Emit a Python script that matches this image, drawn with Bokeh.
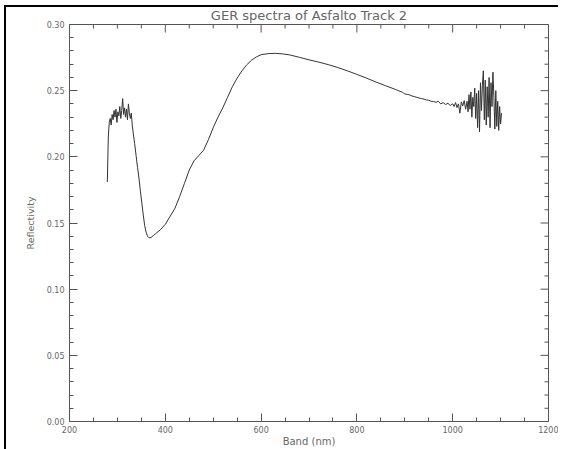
import math
from bokeh.plotting import figure
from bokeh.models import Range1d, FixedTicker, NumeralTickFormatter, ColumnDataSource
from bokeh.layouts import column
from bokeh.embed import file_html
from bokeh.resources import INLINE

# ---- data ----
band_nm = [
    279, 281, 283, 285, 287, 289, 291, 293, 295, 297, 299, 301, 303, 305, 307, 309,
    311, 313, 315, 317, 319, 321, 323, 325, 327, 329, 331, 333, 336, 339, 342, 345,
    348, 351, 354, 357, 360, 363, 366, 370, 375, 380, 390, 400, 410, 420, 430, 440,
    450, 460, 470, 480, 490, 500, 510, 520, 530, 540, 550, 560, 570, 580, 590, 600,
    615, 630, 645, 660, 680, 700, 720, 740, 760, 780, 800, 820, 840, 860, 880, 890,
    895, 900, 905, 910, 915, 920, 925, 930, 935, 940, 945, 950, 955, 960, 965, 970,
    975, 980, 985, 990, 995, 1000, 1003, 1006, 1009, 1012, 1015, 1018, 1021, 1024, 1027,
    1030, 1032, 1034, 1036, 1038, 1040, 1042, 1044, 1046, 1048, 1050, 1052, 1054, 1056,
    1058, 1060, 1062, 1064, 1066, 1068, 1070, 1072, 1074, 1076, 1078, 1080, 1082, 1084,
    1086, 1088, 1090, 1092, 1094, 1096, 1098, 1100, 1102,
]
reflectivity = [
    0.181, 0.215, 0.226, 0.229, 0.224, 0.232, 0.228, 0.235, 0.230, 0.236, 0.226, 0.234,
    0.231, 0.238, 0.229, 0.235, 0.244, 0.232, 0.237, 0.230, 0.236, 0.228, 0.240, 0.233,
    0.229, 0.233, 0.224, 0.218, 0.210, 0.201, 0.192, 0.184, 0.174, 0.165, 0.156, 0.148,
    0.143, 0.140, 0.1388, 0.139, 0.1405, 0.142, 0.145, 0.149, 0.155, 0.161, 0.170, 0.180,
    0.190, 0.197, 0.201, 0.205, 0.213, 0.222, 0.230, 0.237, 0.245, 0.253, 0.2595, 0.265,
    0.2695, 0.273, 0.2755, 0.2772, 0.278, 0.2782, 0.2778, 0.277, 0.2752, 0.2733, 0.2716,
    0.2697, 0.2675, 0.265, 0.2623, 0.2595, 0.2565, 0.2537, 0.251, 0.2495,
    0.2488, 0.2475, 0.2472, 0.2468, 0.2460, 0.2455, 0.2450, 0.2444, 0.2440, 0.2436,
    0.2430, 0.2427, 0.2420, 0.2418, 0.2412, 0.2420, 0.2400, 0.2410, 0.2395, 0.2405,
    0.2388, 0.2400, 0.2380, 0.2410, 0.2372, 0.2400, 0.2330, 0.2415, 0.2385, 0.2425,
    0.2360,
    0.2420, 0.2340, 0.2470, 0.2360, 0.2490, 0.2300, 0.2450, 0.2380, 0.2520, 0.2290,
    0.2480, 0.2220, 0.2500, 0.2190, 0.2560, 0.2350, 0.2540, 0.2650, 0.2280, 0.2580,
    0.2240, 0.2530, 0.2300, 0.2600, 0.2220, 0.2560, 0.2380, 0.2640, 0.2450, 0.2210,
    0.2500, 0.2230, 0.2420, 0.2200, 0.2380, 0.2250, 0.2330,
]

x_major_ticks = [200, 400, 600, 800, 1000, 1200]
x_minor_ticks = [250, 300, 350, 450, 500, 550, 650, 700, 750, 850, 900, 950, 1050, 1100, 1150]
y_major_ticks = [0.00, 0.05, 0.10, 0.15, 0.20, 0.25, 0.30]
y_minor_ticks = [0.01, 0.02, 0.03, 0.04, 0.06, 0.07, 0.08, 0.09, 0.11, 0.12, 0.13, 0.14,
                 0.16, 0.17, 0.18, 0.19, 0.21, 0.22, 0.23, 0.24, 0.26, 0.27, 0.28, 0.29]

title_text = "GER spectra of Asfalto Track 2"
x_label = "Band (nm)"
y_label = "Reflectivity"

X0, X1 = 200, 1200
Y0, Y1 = 0.0, 0.30

FONT = "DejaVu Sans"
TXT = "#666666"
AX = "#555555"

p = figure(width=552, height=442, output_backend="svg", toolbar_location=None,
           x_range=Range1d(X0, X1), y_range=Range1d(Y0, Y1),
           title=title_text, x_axis_label=x_label, y_axis_label=y_label,
           min_border_left=63, min_border_right=10, min_border_top=16, min_border_bottom=28)

p.title.align = "center"
p.title.vertical_align = "top"
p.title.text_font = FONT
p.title.text_font_size = "13px"
p.title.text_font_style = "normal"
p.title.text_color = TXT
p.title.standoff = 0
p.title.offset = 0

p.xgrid.visible = False
p.ygrid.visible = False
p.outline_line_color = AX
p.background_fill_color = "white"
p.border_fill_color = "white"

src = ColumnDataSource(dict(x=band_nm, y=reflectivity))
p.line("x", "y", source=src, line_color="#333333", line_width=1)

xt = FixedTicker(ticks=x_major_ticks, minor_ticks=x_minor_ticks)
yt = FixedTicker(ticks=y_major_ticks, minor_ticks=y_minor_ticks)

xax = p.below[0]
yax = p.left[0]
for ax in [xax, yax]:
    ax.axis_line_color = AX
    ax.major_tick_line_color = AX
    ax.minor_tick_line_color = AX
    ax.major_tick_in = 8
    ax.major_tick_out = 0
    ax.minor_tick_in = 4
    ax.minor_tick_out = 0
    ax.major_label_text_font = FONT
    ax.major_label_text_font_size = "8px"
    ax.major_label_text_color = TXT
    ax.axis_label_text_font = FONT
    ax.axis_label_text_font_style = "normal"
    ax.axis_label_text_color = TXT

xax.ticker = xt
yax.ticker = yt
yax.formatter = NumeralTickFormatter(format="0.00")
xax.major_label_standoff = 4
yax.major_label_standoff = 5
xax.axis_label_text_font_size = "10px"
xax.axis_label_standoff = 0
yax.axis_label_text_font_size = "9.5px"
yax.axis_label_standoff = 8

# inward ticks on the top and right frame edges (half of each dash is clipped by the frame)
p.scatter(x=x_major_ticks, y=[Y1] * len(x_major_ticks), marker="dash", angle=math.pi / 2,
          size=16, line_color=AX, line_width=1)
p.scatter(x=x_minor_ticks, y=[Y1] * len(x_minor_ticks), marker="dash", angle=math.pi / 2,
          size=8, line_color=AX, line_width=1)
p.scatter(x=[X1] * len(y_major_ticks), y=y_major_ticks, marker="dash",
          size=16, line_color=AX, line_width=1)
p.scatter(x=[X1] * len(y_minor_ticks), y=y_minor_ticks, marker="dash",
          size=8, line_color=AX, line_width=1)

lay = column(p, margin=(5, 0, 0, 4),
             styles={"border-left": "2px solid black", "border-top": "2px solid black"})

open("out.html", "w").write(file_html(lay, INLINE))
